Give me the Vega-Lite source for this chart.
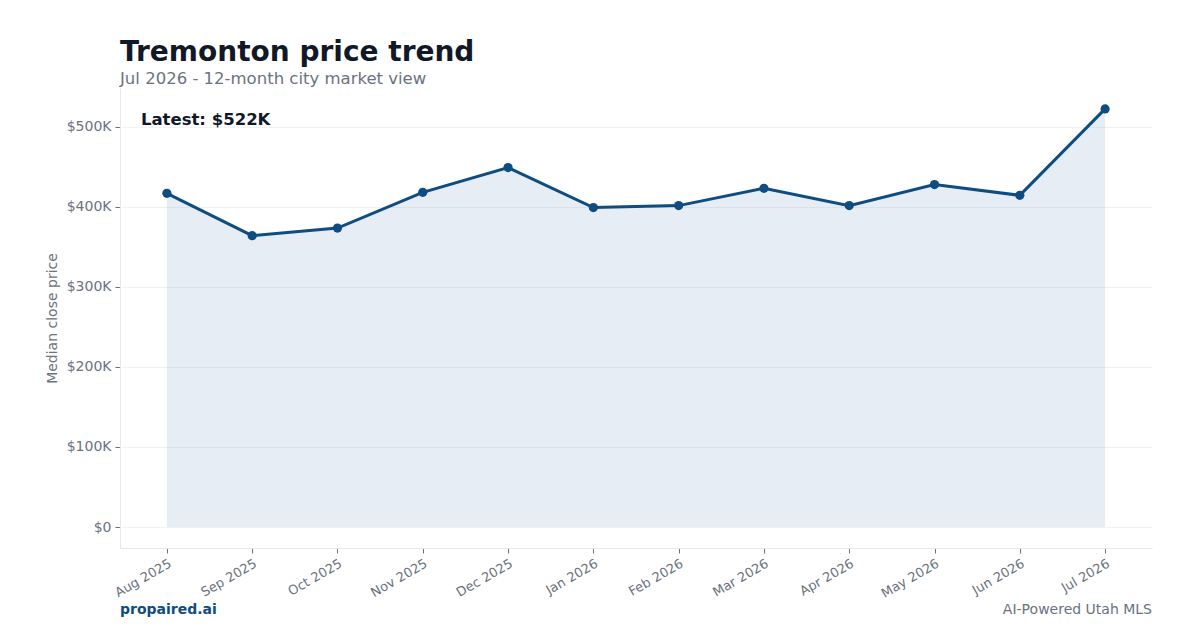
{
  "$schema": "https://vega.github.io/schema/vega-lite/v6.json",
  "autosize": "none",
  "width": 1032,
  "height": 460,
  "padding": {"left": 120, "top": 88, "right": 48, "bottom": 82},
  "background": "white",
  "config": {
    "font": "DejaVu Sans",
    "view": {"stroke": null}
  },
  "title": {
    "text": "Tremonton price trend",
    "subtitle": "Jul 2026 - 12-month city market view",
    "anchor": "start",
    "frame": "group",
    "font": "DejaVu Sans",
    "fontSize": 28,
    "fontWeight": "bold",
    "color": "#111827",
    "subtitleFont": "DejaVu Sans",
    "subtitleFontSize": 16.5,
    "subtitleColor": "#6b7280",
    "subtitlePadding": 4,
    "offset": 1
  },
  "data": {
    "values": [
      {"month": "Aug 2025", "price": 416600},
      {"month": "Sep 2025", "price": 363800},
      {"month": "Oct 2025", "price": 373300},
      {"month": "Nov 2025", "price": 417900},
      {"month": "Dec 2025", "price": 448800},
      {"month": "Jan 2026", "price": 398800},
      {"month": "Feb 2026", "price": 401300},
      {"month": "Mar 2026", "price": 422900},
      {"month": "Apr 2026", "price": 401300},
      {"month": "May 2026", "price": 427500},
      {"month": "Jun 2026", "price": 414100},
      {"month": "Jul 2026", "price": 522000}
    ]
  },
  "encoding": {
    "x": {
      "field": "month",
      "type": "ordinal",
      "sort": null,
      "scale": {"type": "point", "padding": 0.55},
      "axis": {
        "title": null,
        "labelAngle": -30,
        "labelAlign": "right",
        "labelBaseline": "top",
        "labelFontSize": 13,
        "labelColor": "#6b7280",
        "labelPadding": 4,
        "tickColor": "#6b7280",
        "tickSize": 5,
        "domainColor": "#e5e7eb",
        "grid": false
      }
    },
    "y": {
      "field": "price",
      "type": "quantitative",
      "scale": {"domain": [-26100, 548100], "nice": false, "zero": false},
      "axis": {
        "title": "Median close price",
        "titleFontSize": 14,
        "titleFontWeight": "normal",
        "titleColor": "#6b7280",
        "titlePadding": 7,
        "values": [0, 100000, 200000, 300000, 400000, 500000],
        "labelExpr": "datum.value == 0 ? '$0' : '$' + format(datum.value / 1000, ',') + 'K'",
        "labelFontSize": 14,
        "labelColor": "#6b7280",
        "labelPadding": 4,
        "tickColor": "#6b7280",
        "tickSize": 5,
        "domainColor": "#e5e7eb",
        "grid": true,
        "gridColor": "#f1f2f4",
        "gridWidth": 1
      }
    }
  },
  "layer": [
    {
      "mark": {"type": "area", "color": "#1a56a0", "opacity": 0.1, "stroke": "#1a56a0", "strokeOpacity": 0.06},
      "encoding": {
        "y": {"field": "price", "type": "quantitative"},
        "y2": {"datum": 0}
      }
    },
    {
      "mark": {"type": "line", "color": "#0f4c81", "strokeWidth": 3}
    },
    {
      "mark": {"type": "point", "filled": true, "color": "#0f4c81", "size": 85, "opacity": 1}
    },
    {
      "transform": [{"filter": "datum.month == 'Jul 2026'"}],
      "mark": {"type": "text", "text": "Latest: $522K", "align": "left", "baseline": "middle", "fontSize": 16.5, "fontWeight": "bold", "color": "#111827", "dx": -26},
      "encoding": {
        "x": {"datum": "Aug 2025"},
        "y": {"datum": 508000}
      }
    },
    {
      "transform": [{"filter": "datum.month == 'Jul 2026'"}],
      "mark": {"type": "text", "text": "propaired.ai", "align": "left", "baseline": "middle", "fontSize": 14, "fontWeight": "bold", "color": "#0f4c81"},
      "encoding": {
        "x": {"value": 0},
        "y": {"value": 522}
      }
    },
    {
      "transform": [{"filter": "datum.month == 'Jul 2026'"}],
      "mark": {"type": "text", "text": "AI-Powered Utah MLS", "align": "right", "baseline": "middle", "fontSize": 14, "color": "#6b7280"},
      "encoding": {
        "x": {"value": 1032},
        "y": {"value": 522}
      }
    }
  ]
}
